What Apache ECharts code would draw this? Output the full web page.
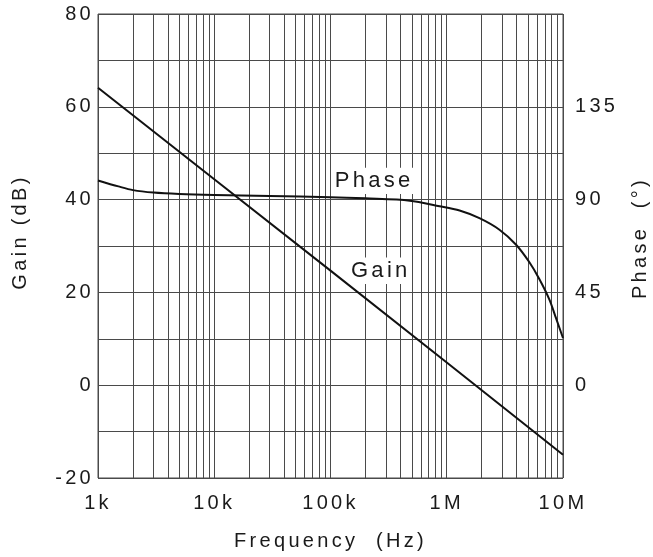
<!DOCTYPE html>
<html>
<head>
<meta charset="utf-8">
<style>html,body{margin:0;padding:0;background:#fff;overflow:hidden;width:653px;height:557px;}#c{position:absolute;left:0;top:0;width:653px;height:557px;}</style>
<script src="https://cdn.jsdelivr.net/npm/echarts@6/dist/echarts.min.js"></script>
</head>
<body>
<div id="c"></div>
<script>
// ---- data ----
const decades = [1e3, 1e4, 1e5, 1e6, 1e7];
const freqTickLabels = ['1k', '10k', '100k', '1M', '10M'];
const gainFreq = [1e3, 1e4, 1e5, 1e6, 1e7];
const gainDb = [64.1, 44.4, 24.7, 4.9, -15.0];
const phaseFreq = [1e3, 1.5e3, 2e3, 3e3, 5e3, 1e4, 3e4, 1e5, 2e5, 4.8e5, 8.67e5, 1.29e6, 1.91e6, 2.84e6, 3.95e6, 5.14e6, 6.27e6, 7.64e6, 8.71e6, 1e7];
const phaseDeg = [99.3, 96.4, 94.6, 93.4, 92.7, 92.2, 91.7, 91.2, 90.6, 89.5, 86.8, 84.7, 81.0, 75.4, 68.1, 59.6, 51.4, 41.5, 32.5, 22.9];
const gainTicks = [-20, 0, 20, 40, 60, 80];
const phaseTicks = [0, 45, 90, 135];
const curveLabels = [
  { name: 'Phase', freq: 2.35e5, deg: 99.1 },
  { name: 'Gain', freq: 2.68e5, deg: 55.5 }
];

// minor vertical grid frequencies (2..9 within each decade)
const minorFreqs = [];
for (let i = 0; i < decades.length - 1; i++) {
  for (let k = 2; k <= 9; k++) minorFreqs.push(decades[i] * k);
}

// wide, letter-spaced lettering like the original datasheet
(function () {
  const proto = CanvasRenderingContext2D.prototype;
  const desc = Object.getOwnPropertyDescriptor(proto, 'font');
  if (!desc || !desc.set || !('letterSpacing' in proto)) return;
  Object.defineProperty(proto, 'font', {
    configurable: true,
    get() { return desc.get.call(this); },
    set(v) { desc.set.call(this, v); try { this.letterSpacing = '3.3px'; } catch (e) {} }
  });
})();

const font = 'Liberation Sans, Arial, Helvetica, sans-serif';
const gridColor = '#4a4a4a';
const textColor = '#1a1a1a';
const fs = 20;

const chart = echarts.init(document.getElementById('c'), null, { renderer: 'canvas', width: 653, height: 557 });
chart.setOption({
  animation: false,
  backgroundColor: '#fff',
  grid: { left: 98, right: 90, top: 14, bottom: 79, containLabel: false, outerBoundsMode: 'none',
    show: true, borderColor: gridColor, borderWidth: 1, backgroundColor: 'transparent' },
  xAxis: {
    type: 'log', logBase: 10, min: 1e3, max: 1e7,
    name: 'Frequency  (Hz)', nameLocation: 'middle', nameGap: 52,
    nameTextStyle: { fontFamily: font, fontSize: fs, color: textColor },
    axisLine: { show: false }, axisTick: { show: false },
    axisLabel: {
      fontFamily: font, fontSize: fs, color: textColor, margin: 14,
      formatter: v => { const i = decades.findIndex(d => Math.abs(d - v) / d < 1e-6); return i >= 0 ? freqTickLabels[i] : ''; }
    },
    splitLine: { show: true, lineStyle: { color: gridColor, width: 1 } }
  },
  yAxis: [
    {
      type: 'value', min: -20, max: 80, interval: 10,
      name: 'Gain (dB)', nameLocation: 'middle', nameGap: 66, nameRotate: 90,
      nameTextStyle: { fontFamily: font, fontSize: fs, color: textColor, padding: [0, 0, 0, 28] },
      axisLine: { show: false }, axisTick: { show: false },
      axisLabel: { fontFamily: font, fontSize: fs, color: textColor, margin: 4,
        formatter: v => gainTicks.includes(v) ? String(v) : '' },
      splitLine: { show: true, lineStyle: { color: gridColor, width: 1 } }
    },
    {
      type: 'value', min: -45, max: 180, interval: 45, position: 'right',
      name: 'Phase  (°)', nameLocation: 'middle', nameGap: 64, nameRotate: 90,
      nameTextStyle: { fontFamily: font, fontSize: fs, color: textColor, padding: [0, 0, 0, 16] },
      axisLine: { show: false }, axisTick: { show: false },
      axisLabel: { fontFamily: font, fontSize: fs, color: textColor, margin: 12,
        formatter: v => phaseTicks.includes(v) ? String(v) : '' },
      splitLine: { show: false }
    }
  ],
  series: [
    {
      type: 'line', name: 'grid', data: [], z: 1, silent: true,
      markLine: {
        z: 1, silent: true, symbol: ['none', 'none'], label: { show: false },
        lineStyle: { color: gridColor, width: 1, type: 'solid' },
        emphasis: { disabled: true },
        data: minorFreqs.map(f => ({ xAxis: f }))
      }
    },
    {
      type: 'line', name: 'Gain', yAxisIndex: 0, z: 3,
      data: gainFreq.map((f, i) => [f, gainDb[i]]),
      showSymbol: false, lineStyle: { color: '#111', width: 2 }
    },
    {
      type: 'line', name: 'Phase', yAxisIndex: 1, z: 3, smooth: 0.3,
      data: phaseFreq.map((f, i) => [f, phaseDeg[i]]),
      showSymbol: false, lineStyle: { color: '#111', width: 2 },
      markPoint: {
        z: 10, symbol: 'rect', symbolSize: 1, itemStyle: { color: 'transparent' },
        label: { show: true, position: 'inside', fontFamily: font, fontSize: 22, color: textColor,
          backgroundColor: '#fff', padding: [1, 1, 0, 2], formatter: p => p.name },
        data: curveLabels.map(l => ({ name: l.name, coord: [l.freq, l.deg] }))
      }
    }
  ]
});
</script>
</body>
</html>
